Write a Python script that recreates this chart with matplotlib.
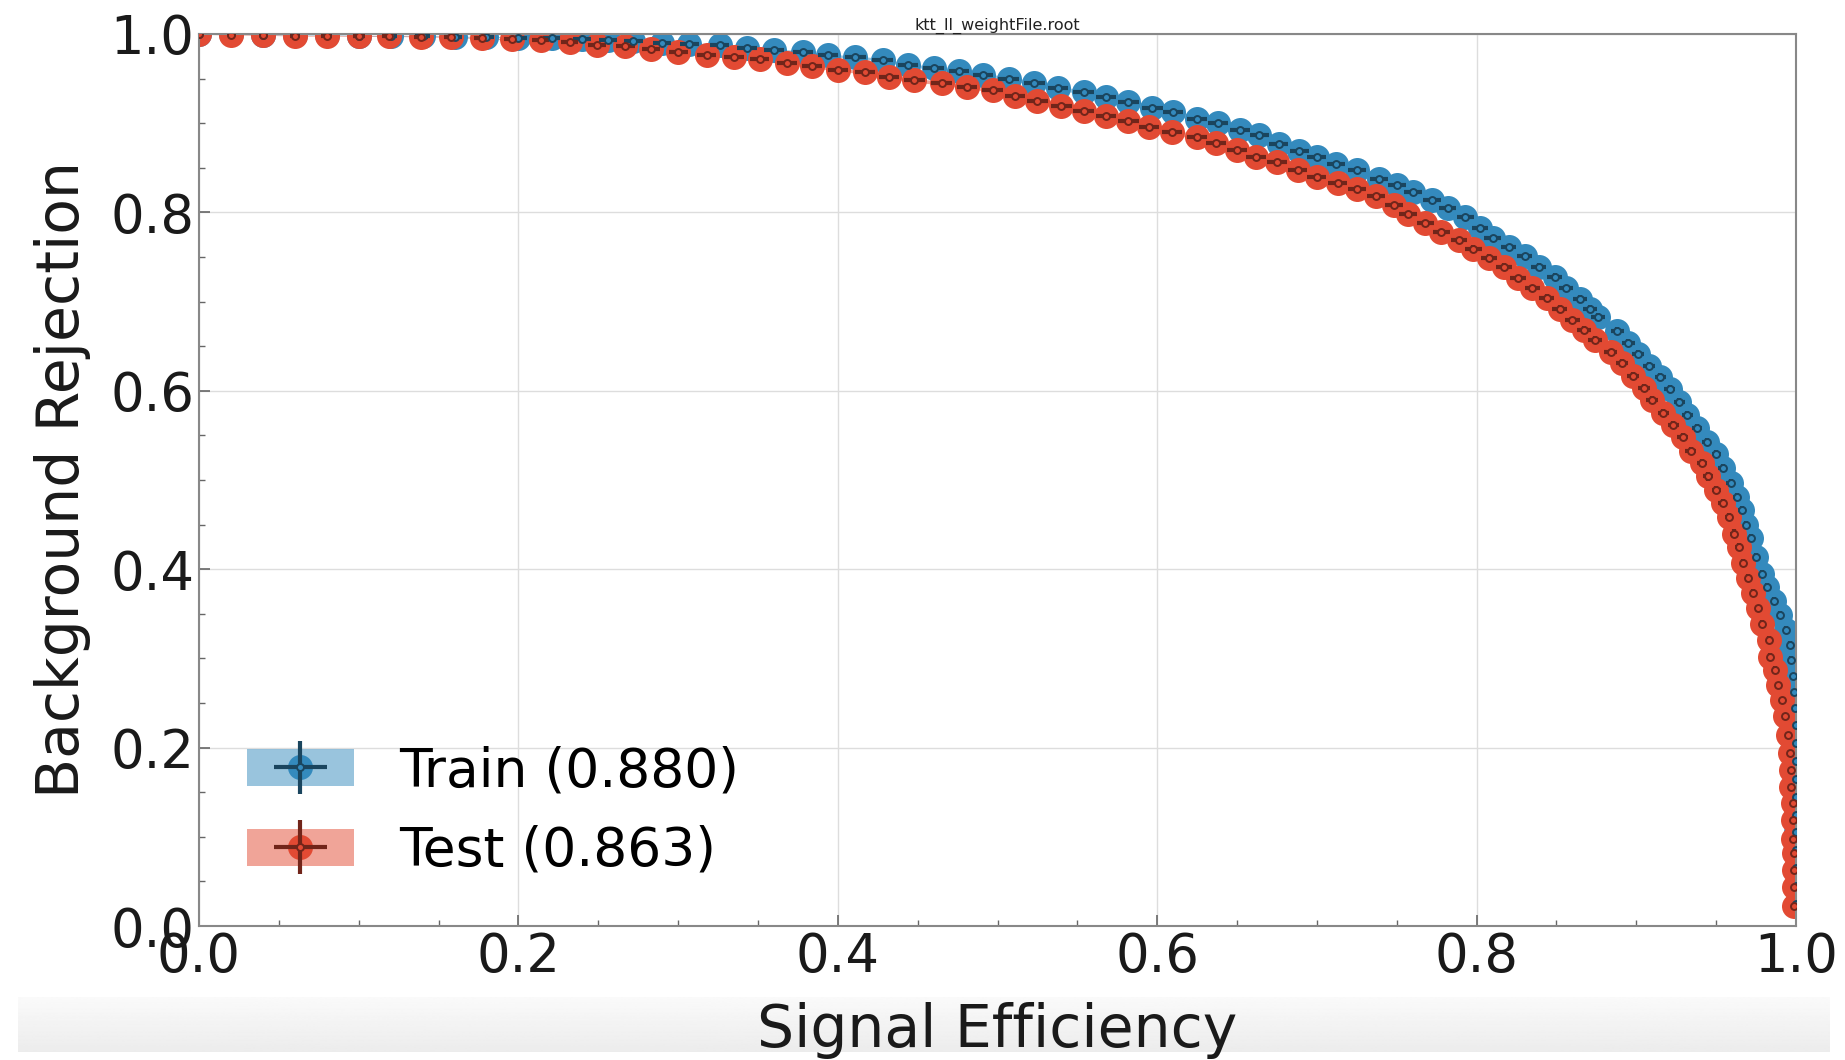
import numpy as np
import matplotlib
matplotlib.use("Agg")
import matplotlib.pyplot as plt
from matplotlib.patches import Patch
from matplotlib.lines import Line2D
from matplotlib.ticker import MultipleLocator

TITLE = "ktt_ll_weightFile.root"
XLABEL = "Signal Efficiency"
YLABEL = "Background Rejection"
LABELS = ["Train (0.880)", "Test (0.863)"]

train_x = [0.000, 0.020, 0.040, 0.060, 0.080, 0.100, 0.120, 0.140, 0.160, 0.180, 0.200,
           0.221, 0.240, 0.256, 0.272, 0.290, 0.307,
           0.326, 0.343, 0.360, 0.378, 0.394, 0.411, 0.428, 0.444, 0.460, 0.476, 0.491,
           0.507, 0.523, 0.538, 0.554, 0.568, 0.582, 0.597, 0.610, 0.625, 0.638,
           0.652, 0.664, 0.676, 0.689, 0.700, 0.712, 0.725, 0.739, 0.750, 0.760, 0.772,
           0.782, 0.793, 0.802, 0.810, 0.820, 0.830, 0.839, 0.849, 0.856, 0.865, 0.871, 0.876,
           0.888, 0.895, 0.901, 0.908, 0.915, 0.921, 0.927, 0.932, 0.938, 0.944, 0.950, 0.954,
           0.959, 0.963, 0.966, 0.969, 0.972, 0.975, 0.979, 0.982, 0.986, 0.990, 0.994, 0.996,
           0.997, 0.998, 0.999, 0.9995, 1.000, 1.000, 1.000, 1.000, 1.000, 1.000, 1.000,
           1.000, 1.000, 1.000, 1.000]
train_y = [1.000, 1.000, 0.999, 0.999, 0.999, 0.998, 0.998, 0.998, 0.997, 0.997, 0.996,
           0.995, 0.994, 0.993, 0.992, 0.990, 0.989,
           0.988, 0.984, 0.982, 0.980, 0.976, 0.974, 0.971, 0.965, 0.962, 0.958, 0.954,
           0.950, 0.945, 0.939, 0.935, 0.929, 0.924, 0.917, 0.912, 0.905, 0.900,
           0.892, 0.887, 0.877, 0.869, 0.862, 0.854, 0.847, 0.838, 0.831, 0.823, 0.814,
           0.805, 0.795, 0.782, 0.771, 0.761, 0.751, 0.739, 0.728, 0.715, 0.703, 0.692, 0.683,
           0.667, 0.654, 0.641, 0.628, 0.615, 0.602, 0.587, 0.573, 0.558, 0.543, 0.529, 0.513,
           0.497, 0.481, 0.466, 0.450, 0.435, 0.414, 0.395, 0.380, 0.364, 0.349, 0.332, 0.315,
           0.298, 0.280, 0.262, 0.244, 0.225, 0.205, 0.185, 0.165, 0.145, 0.125, 0.105,
           0.085, 0.065, 0.045, 0.025]

test_x = [0.000, 0.020, 0.040, 0.060, 0.080, 0.100, 0.119, 0.139, 0.158, 0.177, 0.196,
          0.214, 0.232, 0.249, 0.267, 0.283, 0.300, 0.318,
          0.335, 0.351, 0.368, 0.384, 0.400, 0.417, 0.432, 0.448, 0.465, 0.481, 0.497,
          0.511, 0.525, 0.540, 0.554, 0.568, 0.582, 0.595, 0.609, 0.625, 0.637,
          0.650, 0.662, 0.675, 0.688, 0.700, 0.713, 0.725, 0.737, 0.748, 0.757, 0.768,
          0.778, 0.789, 0.798, 0.808, 0.817, 0.826, 0.835, 0.844, 0.852, 0.860, 0.867, 0.874,
          0.884, 0.891, 0.898, 0.905, 0.910, 0.917, 0.923, 0.929, 0.934, 0.941, 0.945,
          0.950, 0.954, 0.958, 0.961, 0.964, 0.967, 0.970, 0.973, 0.976, 0.979, 0.983,
          0.984, 0.987, 0.989, 0.991, 0.993, 0.995, 0.996, 0.997, 0.997, 0.998, 0.998,
          0.998, 0.999, 0.999, 0.999, 0.999]
test_y = [1.000, 0.999, 0.999, 0.998, 0.998, 0.998, 0.998, 0.997, 0.997, 0.995, 0.994,
          0.993, 0.991, 0.988, 0.986, 0.983, 0.980, 0.977,
          0.974, 0.972, 0.967, 0.964, 0.960, 0.957, 0.952, 0.948, 0.945, 0.941, 0.937,
          0.931, 0.925, 0.919, 0.914, 0.908, 0.902, 0.896, 0.890, 0.885, 0.878,
          0.870, 0.862, 0.856, 0.848, 0.840, 0.833, 0.826, 0.818, 0.808, 0.798, 0.788,
          0.778, 0.769, 0.759, 0.749, 0.739, 0.726, 0.715, 0.704, 0.692, 0.679, 0.668, 0.657,
          0.643, 0.631, 0.617, 0.603, 0.590, 0.575, 0.562, 0.548, 0.533, 0.519, 0.504,
          0.489, 0.474, 0.459, 0.440, 0.425, 0.407, 0.390, 0.373, 0.356, 0.339, 0.321,
          0.302, 0.287, 0.270, 0.253, 0.235, 0.214, 0.194, 0.175, 0.156, 0.138, 0.119,
          0.098, 0.082, 0.063, 0.044, 0.022]

# event counts used for binomial uncertainties on the efficiencies
N_SIG = 6000
N_BKG = 12000

COLORS = ["#348ABD", "#E24A33"]
DARK = ["#1A455E", "#71251A"]

fig = plt.figure(figsize=(18.45, 10.6), dpi=100)
W, H = 1845.0, 1060.0
ax = fig.add_axes([199 / W, 1 - 926 / H, (1796 - 199) / W, (926 - 34) / H])

# light grey band at bottom (screenshot shading)
band = fig.add_axes([18 / W, 1 - 1052 / H, (1830 - 18) / W, (1052 - 997) / H], zorder=-1)
grad = np.linspace(0.98, 0.925, 64).reshape(-1, 1)
band.imshow(np.repeat(grad, 4, axis=1), cmap="gray", vmin=0, vmax=1, aspect="auto",
            extent=[0, 1, 0, 1], origin="upper")
band.set_axis_off()

series = [(np.array(train_x), np.array(train_y)), (np.array(test_x), np.array(test_y))]
errs = []
for (x, y), c in zip(series, COLORS):
    xe = np.sqrt(np.clip(x * (1 - x), 0, None) / N_SIG)
    ye = np.sqrt(np.clip(y * (1 - y), 0, None) / N_BKG)
    errs.append((xe, ye))
    ax.fill_between(x, y - ye, y + ye, color=c, alpha=0.5, lw=0, zorder=1)
    ax.plot(x, y, "o", ms=18, color=c, mec="none", zorder=2)

containers = []
for (x, y), (xe, ye), c, dc in zip(series, errs, COLORS, DARK):
    eb = ax.errorbar(x, y, xerr=xe, yerr=ye, fmt="o", ms=5, mfc=c, mec=dc, mew=1.4,
                     ecolor=dc, elinewidth=3.0, capsize=0, zorder=3)
    containers.append(eb)

handles = []
for c, eb in zip(COLORS, containers):
    handles.append((Patch(fc=c, alpha=0.5, ec="none"),
                    Line2D([], [], marker="o", ms=18, color=c, ls="", mec="none"),
                    eb))
ax.legend(handles, LABELS, loc="lower left", bbox_to_anchor=(0.03, 0.055), fontsize=38.5,
          frameon=False, handlelength=2.0, handleheight=0.7, handletextpad=0.85,
          labelspacing=0.52, borderpad=0, borderaxespad=0)

ax.set_xlim(0, 1)
ax.set_ylim(0, 1)
ax.xaxis.set_major_locator(MultipleLocator(0.2))
ax.yaxis.set_major_locator(MultipleLocator(0.2))
ax.xaxis.set_minor_locator(MultipleLocator(0.05))
ax.yaxis.set_minor_locator(MultipleLocator(0.05))
ax.tick_params(which="both", direction="in", top=False, right=False, labelsize=38,
               colors="#1a1a1a")
ax.tick_params(which="major", length=8, width=1.2, color="#666666")
ax.tick_params(which="minor", length=4, width=1.0, color="#666666")
ax.grid(True, which="major", color="#dddddd", lw=1.0)
ax.set_axisbelow(True)
for s in ax.spines.values():
    s.set_color("#888888")
    s.set_linewidth(1.5)

ax.set_xlabel(XLABEL, fontsize=42, color="#1a1a1a", labelpad=14)
ax.set_ylabel(YLABEL, fontsize=42, color="#1a1a1a", labelpad=14)
ax.set_title(TITLE, fontsize=11.5, color="#222222", pad=3)

fig.savefig("out.png", dpi=100)
